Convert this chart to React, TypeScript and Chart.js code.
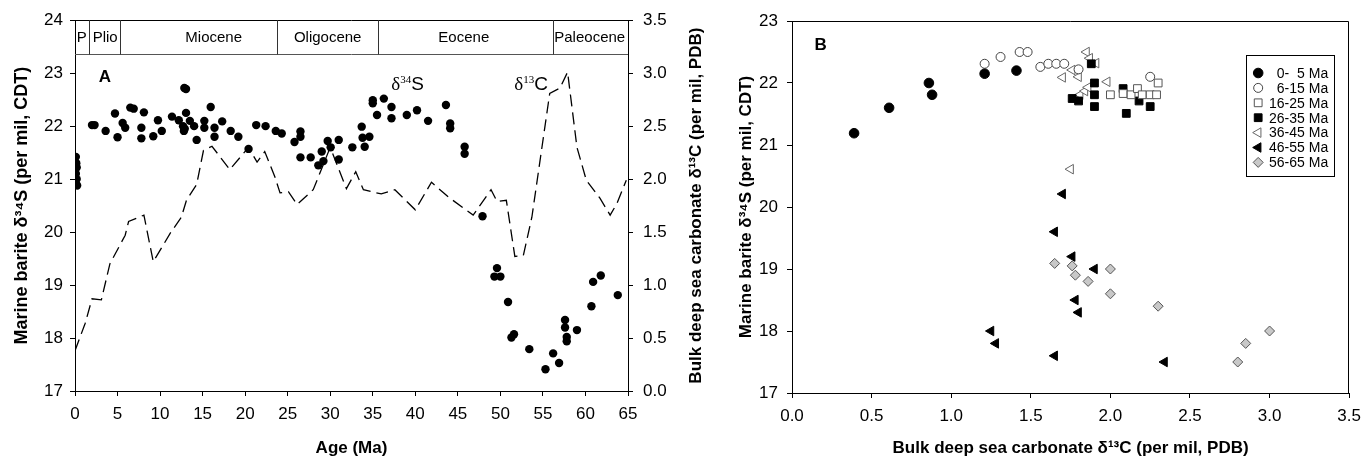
import React, { useEffect, useRef } from "react";
import { Chart, registerables } from "chart.js";
Chart.register(...registerables);

const SANS = "'Liberation Sans', Arial, sans-serif";
const SERIF = "'Liberation Serif', 'Times New Roman', serif";

// ---------- Panel A data ----------
const ageS34: number[] = [
  0.1, 0.15, 0.2, 0.1, 0.2, 0.1, 0.25,
  2.0, 2.3, 3.6, 4.7, 5.0, 5.6, 5.9, 6.5, 6.9, 7.8, 7.8, 8.1, 9.2, 9.75, 10.2, 11.4, 12.2,
  12.85, 13.05, 12.7, 12.8, 12.9, 13.05, 13.5, 14.0, 14.3, 15.2, 15.2, 15.95, 16.4, 16.4, 17.3,
  18.3, 19.2, 20.4, 21.3, 22.4, 23.6, 24.3, 25.8, 26.5, 26.5, 26.5, 27.7, 28.6, 29.0, 29.2,
  29.7, 30.05, 31.0, 31.0, 32.6, 33.7, 33.8, 34.05, 34.6, 35.0, 35.0, 35.5, 36.3, 37.2, 37.2,
  39.0, 40.2, 41.5, 43.6, 44.1, 44.1, 45.8, 45.8, 47.9, 49.6, 49.3, 50.0, 50.9, 51.3, 51.6,
  53.4, 55.3, 56.2, 56.9, 57.6, 57.6, 57.8, 57.8, 59.0, 60.7, 60.9, 61.8, 63.8,
];
const s34A: number[] = [
  21.42, 21.3, 21.22, 21.1, 21.0, 20.92, 20.88,
  22.02, 22.02, 21.91, 22.24, 21.79, 22.06, 21.97, 22.35, 22.33, 21.97, 21.77, 22.26, 21.81, 22.11, 21.91, 22.18, 22.11,
  22.72, 22.7, 22.0, 21.91, 21.95, 22.25, 22.1, 22.0, 21.74, 22.1, 21.97, 22.36, 21.97, 21.8, 22.09,
  21.91, 21.8, 21.57, 22.02, 22.0, 21.91, 21.86, 21.7, 21.9, 21.8, 21.41, 21.41, 21.26, 21.52, 21.34,
  21.72, 21.6, 21.74, 21.37, 21.6, 21.99, 21.78, 21.61, 21.8, 22.49, 22.43, 22.21, 22.52, 22.36, 22.15,
  22.21, 22.3, 22.1, 22.4, 22.05, 21.96, 21.61, 21.48, 20.3, 19.32, 19.16, 19.16, 18.68, 18.01, 18.07,
  17.79, 17.41, 17.71, 17.53, 18.34, 18.2, 18.02, 17.94, 18.15, 18.6, 19.06, 19.18, 18.81,
];
const ageC13: number[] = [
  0, 1.2, 2.0, 3.1, 4.1, 5.9, 6.3, 8.1, 9.2, 11.2, 12.5, 13.1, 14.3, 15.1, 16.1, 18.2, 20.4, 21.4,
  22.3, 23.5, 24.1, 25.1, 26.1, 28.0, 30.0, 31.9, 33.0, 33.9, 36.0, 37.6, 40.0, 41.9, 43.9, 46.8,
  48.9, 49.6, 50.7, 51.7, 52.7, 53.7, 55.8, 57.0, 57.9, 59.0, 60.1, 61.7, 62.9, 63.7, 64.8,
];
const c13A: number[] = [
  0.38, 0.64, 0.87, 0.86, 1.2, 1.47, 1.6, 1.66, 1.22, 1.49, 1.64, 1.8, 1.95, 2.27, 2.31, 2.09, 2.3, 2.16,
  2.26, 2.02, 1.87, 1.88, 1.76, 1.9, 2.3, 1.91, 2.07, 1.9, 1.86, 1.9, 1.71, 1.97, 1.83, 1.66,
  1.9, 1.79, 1.8, 1.27, 1.28, 1.64, 2.81, 2.86, 3.01, 2.3, 1.99, 1.82, 1.66, 1.77, 1.99,
];
const epochNames: string[] = ["P", "Plio", "Miocene", "Oligocene", "Eocene", "Paleocene"];
const epochBounds: number[] = [0, 1.6, 5.3, 23.7, 35.6, 56.2, 65];
const epochLabelAges: number[] = [0.8, 3.55, 16.3, 29.7, 45.7, 60.5];
const epochBandBottom = 23.37;

const ageTicksA: number[] = [0, 5, 10, 15, 20, 25, 30, 35, 40, 45, 50, 55, 60, 65];
const s34TicksA: number[] = [17, 18, 19, 20, 21, 22, 23, 24];
const c13TicksA: number[] = [0, 0.5, 1.0, 1.5, 2.0, 2.5, 3.0, 3.5];

const titleXA = "Age (Ma)";
const titleYA = "Marine barite δ³⁴S (per mil, CDT)";
const titleY2A = "Bulk deep sea carbonate δ¹³C (per mil, PDB)";

// ---------- Panel B data ----------
const grp0to5: number[][] = [[0.39, 21.19], [0.61, 21.6], [0.86, 22.0], [0.88, 21.81], [1.21, 22.15], [1.41, 22.2]];
const grp6to15: number[][] = [[1.21, 22.31], [1.31, 22.42], [1.43, 22.5], [1.48, 22.5], [1.56, 22.26], [1.61, 22.31], [1.66, 22.31], [1.71, 22.31], [1.8, 22.22], [2.25, 22.1]];
const grp16to25: number[][] = [[2.0, 21.81], [2.08, 21.83], [2.13, 21.81], [2.17, 21.91], [2.2, 21.81], [2.25, 21.81], [2.29, 21.81], [2.3, 22.0]];
const grp26to35: number[][] = [[1.76, 21.75], [1.8, 21.71], [1.88, 22.31], [1.9, 22.0], [1.9, 21.81], [1.9, 21.62], [2.08, 21.91], [2.18, 21.71], [2.1, 21.51], [2.25, 21.62]];
const grp36to45: number[][] = [[1.7, 22.09], [1.76, 22.21], [1.8, 22.1], [1.85, 22.5], [1.87, 22.4], [1.91, 22.32], [1.81, 21.81], [1.84, 21.87], [1.86, 21.93], [1.98, 22.02], [1.75, 20.61]];
const grp46to55: number[][] = [[1.7, 20.21], [1.65, 19.6], [1.76, 19.2], [1.9, 19.0], [1.78, 18.5], [1.8, 18.3], [1.25, 18.0], [1.28, 17.8], [1.65, 17.6], [2.34, 17.5]];
const grp56to65: number[][] = [[1.65, 19.09], [1.76, 19.05], [1.78, 18.9], [1.86, 18.8], [2.0, 19.0], [2.0, 18.6], [2.3, 18.4], [3.0, 18.0], [2.85, 17.8], [2.8, 17.5]];
const groupLabels: string[] = ["0-  5 Ma", "6-15 Ma", "16-25 Ma", "26-35 Ma", "36-45 Ma", "46-55 Ma", "56-65 Ma"];

const xTicksB: number[] = [0, 0.5, 1.0, 1.5, 2.0, 2.5, 3.0, 3.5];
const yTicksB: number[] = [17, 18, 19, 20, 21, 22, 23];
const titleXB = "Bulk deep sea carbonate δ¹³C (per mil, PDB)";
const titleYB = "Marine barite δ³⁴S (per mil, CDT)";

// ---------- helpers ----------
const fixedTicks = (values: number[]) => (scale: any) => {
  scale.ticks = values.map((v) => ({ value: v }));
};

function drawMarker(ctx: CanvasRenderingContext2D, ds: any, x: number, y: number) {
  const r = ds.pointRadius;
  const style = ds.pointStyle;
  ctx.save();
  ctx.beginPath();
  if (style === "circle") {
    ctx.arc(x, y, r, 0, Math.PI * 2);
  } else if (style === "rect") {
    const s = r * Math.SQRT1_2;
    ctx.rect(x - s, y - s, 2 * s, 2 * s);
  } else if (style === "rectRot") {
    const s = r;
    ctx.moveTo(x, y - s);
    ctx.lineTo(x + s, y);
    ctx.lineTo(x, y + s);
    ctx.lineTo(x - s, y);
    ctx.closePath();
  } else if (style === "triangle") {
    let rad = ((ds.pointRotation || 0) * Math.PI) / 180;
    ctx.moveTo(x + Math.sin(rad) * r, y - Math.cos(rad) * r);
    rad += (2 * Math.PI) / 3;
    ctx.lineTo(x + Math.sin(rad) * r, y - Math.cos(rad) * r);
    rad += (2 * Math.PI) / 3;
    ctx.lineTo(x + Math.sin(rad) * r, y - Math.cos(rad) * r);
    ctx.closePath();
  }
  ctx.fillStyle = ds.pointBackgroundColor;
  ctx.fill();
  ctx.lineWidth = ds.pointBorderWidth;
  ctx.strokeStyle = ds.pointBorderColor;
  ctx.stroke();
  ctx.restore();
}

function drawDeltaLabel(ctx: CanvasRenderingContext2D, cx: number, cy: number, sup: string, el: string) {
  ctx.save();
  ctx.fillStyle = "#000";
  ctx.textBaseline = "alphabetic";
  ctx.textAlign = "left";
  const f1 = `19px ${SERIF}`;
  const f2 = `11px ${SERIF}`;
  const f3 = `19px ${SANS}`;
  ctx.font = f1;
  const w1 = ctx.measureText("δ").width;
  ctx.font = f2;
  const w2 = ctx.measureText(sup).width;
  ctx.font = f3;
  const w3 = ctx.measureText(el).width;
  let x = cx - (w1 + w2 + w3) / 2;
  const base = cy + 7;
  ctx.font = f1;
  ctx.fillText("δ", x, base);
  x += w1;
  ctx.font = f2;
  ctx.fillText(sup, x, base - 7);
  x += w2;
  ctx.font = f3;
  ctx.fillText(el, x, base);
  ctx.restore();
}

const panelAPlugin = {
  id: "panelA",
  afterDraw(chart: any) {
    const { ctx, chartArea, scales } = chart;
    const { left, right, top, bottom } = chartArea;
    const xs = scales.x;
    const ys = scales.y;
    ctx.save();
    ctx.strokeStyle = "#000";
    ctx.lineWidth = 1;
    ctx.beginPath();
    ctx.moveTo(left, Math.round(top) + 0.5);
    ctx.lineTo(right, Math.round(top) + 0.5);
    ctx.stroke();
    // epoch band
    const yb = Math.round(ys.getPixelForValue(epochBandBottom)) + 0.5;
    ctx.strokeStyle = "#555";
    ctx.beginPath();
    ctx.moveTo(left, yb);
    ctx.lineTo(right, yb);
    ctx.stroke();
    ctx.strokeStyle = "#333";
    for (let i = 1; i < epochBounds.length - 1; i++) {
      const px = Math.round(xs.getPixelForValue(epochBounds[i])) + 0.5;
      ctx.beginPath();
      ctx.moveTo(px, top);
      ctx.lineTo(px, yb);
      ctx.stroke();
    }
    ctx.fillStyle = "#000";
    ctx.font = `15px ${SANS}`;
    ctx.textAlign = "center";
    ctx.textBaseline = "middle";
    epochNames.forEach((n, i) => {
      ctx.fillText(n, xs.getPixelForValue(epochLabelAges[i]), (top + yb) / 2 + 1);
    });
    ctx.font = `bold 17px ${SANS}`;
    ctx.fillText("A", xs.getPixelForValue(3.5), ys.getPixelForValue(22.92));
    drawDeltaLabel(ctx, xs.getPixelForValue(39.1), ys.getPixelForValue(22.81), "34", "S");
    drawDeltaLabel(ctx, xs.getPixelForValue(53.6), ys.getPixelForValue(22.81), "13", "C");
    // right axis title (reads bottom to top)
    ctx.save();
    ctx.translate(chart.width - 16, (top + bottom) / 2);
    ctx.rotate(-Math.PI / 2);
    ctx.font = `bold 17px ${SANS}`;
    ctx.textAlign = "center";
    ctx.textBaseline = "middle";
    ctx.fillText(titleY2A, 0, 0);
    ctx.restore();
    ctx.restore();
  },
};

const panelBPlugin = {
  id: "panelB",
  afterDraw(chart: any) {
    const { ctx, chartArea, scales } = chart;
    const { left, right, top, bottom } = chartArea;
    ctx.save();
    ctx.strokeStyle = "#000";
    ctx.lineWidth = 1;
    ctx.beginPath();
    ctx.moveTo(left, Math.round(top) + 0.5);
    ctx.lineTo(Math.round(right) - 0.5, Math.round(top) + 0.5);
    ctx.lineTo(Math.round(right) - 0.5, bottom);
    ctx.stroke();
    ctx.fillStyle = "#000";
    ctx.font = `bold 17px ${SANS}`;
    ctx.textAlign = "center";
    ctx.textBaseline = "middle";
    ctx.fillText("B", scales.x.getPixelForValue(0.18), scales.y.getPixelForValue(22.6));
    // legend
    const bx = right - 103;
    const by = top + 34;
    const bw = 88;
    const bh = 121;
    ctx.strokeStyle = "#000";
    ctx.strokeRect(Math.round(bx) + 0.5, Math.round(by) + 0.5, bw, bh);
    ctx.font = `14px ${SANS}`;
    ctx.textAlign = "right";
    chart.data.datasets.forEach((ds: any, i: number) => {
      const yy = by + 18 + i * 14.9;
      drawMarker(ctx, ds, bx + 12, yy);
      ctx.fillStyle = "#000";
      ctx.fillText(ds.label, bx + 82, yy + 1);
    });
    ctx.restore();
  },
};

const toPts = (xs: number[], ys: number[]) => xs.map((x, i) => ({ x, y: ys[i] }));
const pairPts = (g: number[][]) => g.map((p) => ({ x: p[0], y: p[1] }));

const axisCommon = (extra: any) => ({
  grid: { drawOnChartArea: false, drawTicks: true, tickLength: 5, color: "#000" },
  border: { color: "#000", width: 1 },
  ...extra,
});

export default function App() {
  const refA = useRef<HTMLCanvasElement>(null);
  const refB = useRef<HTMLCanvasElement>(null);

  useEffect(() => {
    const tickFont = { family: SANS, size: 17 };
    const titleFont = { family: SANS, size: 17, weight: "bold" as const };
    const titleFontA = { family: SANS, size: 18, weight: "bold" as const };

    const chartA = new Chart(refA.current!, {
      type: "scatter",
      data: {
        datasets: [
          {
            label: "δ34S",
            data: toPts(ageS34, s34A),
            yAxisID: "y",
            pointRadius: 4.2,
            pointBackgroundColor: "#000",
            pointBorderColor: "#000",
            pointBorderWidth: 0,
            showLine: false,
          },
          {
            label: "δ13C",
            data: toPts(ageC13, c13A),
            yAxisID: "y2",
            showLine: true,
            borderColor: "#000",
            borderWidth: 1.3,
            borderDash: [12, 6],
            pointRadius: 0,
            tension: 0,
            fill: false,
          },
        ],
      },
      options: {
        responsive: false,
        animation: false,
        layout: { padding: { top: 20, left: 0, right: 0, bottom: 0 } },
        plugins: { legend: { display: false }, tooltip: { enabled: false } },
        scales: {
          x: axisCommon({
            type: "linear",
            position: "bottom",
            min: 0,
            max: 65,
            afterBuildTicks: fixedTicks(ageTicksA),
            afterFit: (s: any) => { s.height = 83; },
            ticks: { color: "#000", font: tickFont, padding: 8, maxRotation: 0, autoSkip: false },
            title: { display: true, text: titleXA, color: "#000", font: titleFont, padding: { top: 0, bottom: 15 } },
          }),
          y: axisCommon({
            type: "linear",
            position: "left",
            min: 17,
            max: 24,
            afterBuildTicks: fixedTicks(s34TicksA),
            afterFit: (s: any) => { s.width = 75; },
            ticks: { color: "#000", font: tickFont, padding: 7 },
            title: { display: true, text: titleYA, color: "#000", font: titleFontA, padding: { top: 11, bottom: 0 } },
          }),
          y2: axisCommon({
            type: "linear",
            position: "right",
            min: 0,
            max: 3.5,
            afterBuildTicks: fixedTicks(c13TicksA),
            afterFit: (s: any) => { s.width = 84; },
            ticks: { color: "#000", font: tickFont, padding: 10, callback: (v: any) => Number(v).toFixed(1) },
          }),
        },
      },
      plugins: [panelAPlugin],
    });

    const groups = [grp0to5, grp6to15, grp16to25, grp26to35, grp36to45, grp46to55, grp56to65];
    const styles = [
      { pointStyle: "circle", pointRadius: 4.8, pointBackgroundColor: "#000", pointBorderColor: "#000", pointBorderWidth: 1, pointRotation: 0 },
      { pointStyle: "circle", pointRadius: 4.5, pointBackgroundColor: "#fff", pointBorderColor: "#444", pointBorderWidth: 1, pointRotation: 0 },
      { pointStyle: "rect", pointRadius: 5.5, pointBackgroundColor: "#fff", pointBorderColor: "#555", pointBorderWidth: 1, pointRotation: 0 },
      { pointStyle: "rect", pointRadius: 5.5, pointBackgroundColor: "#000", pointBorderColor: "#000", pointBorderWidth: 1, pointRotation: 0 },
      { pointStyle: "triangle", pointRadius: 5.5, pointBackgroundColor: "#fff", pointBorderColor: "#666", pointBorderWidth: 1, pointRotation: 270 },
      { pointStyle: "triangle", pointRadius: 5.5, pointBackgroundColor: "#000", pointBorderColor: "#000", pointBorderWidth: 1, pointRotation: 270 },
      { pointStyle: "rectRot", pointRadius: 5, pointBackgroundColor: "#c8c8c8", pointBorderColor: "#555", pointBorderWidth: 1, pointRotation: 0 },
    ];

    const chartB = new Chart(refB.current!, {
      type: "scatter",
      data: {
        datasets: groups.map((g, i) => ({
          label: groupLabels[i],
          data: pairPts(g),
          showLine: false,
          ...styles[i],
        })) as any,
      },
      options: {
        responsive: false,
        animation: false,
        layout: { padding: { top: 21, left: 0, right: 15, bottom: 0 } },
        plugins: { legend: { display: false }, tooltip: { enabled: false } },
        scales: {
          x: axisCommon({
            type: "linear",
            position: "bottom",
            min: 0,
            max: 3.5,
            afterBuildTicks: fixedTicks(xTicksB),
            afterFit: (s: any) => { s.height = 81; },
            ticks: { color: "#000", font: tickFont, padding: 8, maxRotation: 0, autoSkip: false, callback: (v: any) => Number(v).toFixed(1) },
            title: { display: true, text: titleXB, color: "#000", font: titleFont, padding: { top: 0, bottom: 15 } },
          }),
          y: axisCommon({
            type: "linear",
            position: "left",
            min: 17,
            max: 23,
            afterBuildTicks: fixedTicks(yTicksB),
            afterFit: (s: any) => { s.width = 80; },
            ticks: { color: "#000", font: tickFont, padding: 9 },
            title: { display: true, text: titleYB, color: "#000", font: titleFont, padding: { top: 24, bottom: 0 } },
          }),
        },
      },
      plugins: [panelBPlugin],
    });

    return () => {
      chartA.destroy();
      chartB.destroy();
    };
  }, []);

  return (
    <div style={{ position: "absolute", left: 0, top: 0, width: 1369, height: 474, background: "#fff" }}>
      <canvas ref={refA} width={712} height={474} style={{ position: "absolute", left: 0, top: 0, width: 712, height: 474 }} />
      <canvas ref={refB} width={657} height={474} style={{ position: "absolute", left: 712, top: 0, width: 657, height: 474 }} />
    </div>
  );
}
